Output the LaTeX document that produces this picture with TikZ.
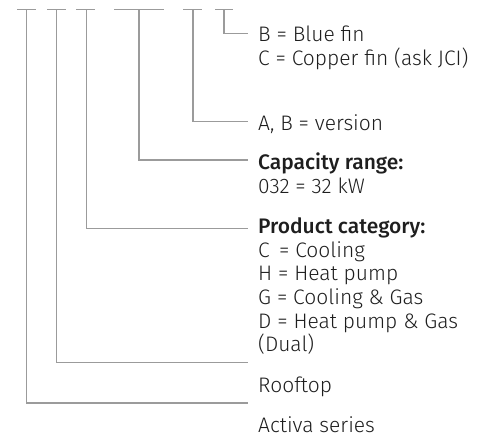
\documentclass[tikz,border=0pt]{standalone}
\usepackage{fontspec}
\setmainfont{Fira Sans Light}[BoldFont={Fira Sans Medium}]
\definecolor{linegray}{HTML}{9B9B9B}
\definecolor{txtcol}{HTML}{1E1E1E}
\begin{document}
\begin{tikzpicture}[x=1pt,y=-1pt,
  barline/.style={draw=linegray,line width=1.3pt},
  conn/.style={draw=linegray,line width=1.3pt},
  lbl/.style={anchor=base west,inner sep=0pt,text=txtcol,align=left,
    font=\fontsize{21}{24}\selectfont}]
\useasboundingbox (0,0) rectangle (483,437);
% top bars
\foreach \n/\a/\b/\v in {1/17/36/26.5, 2/47/66/56.5, 3/76/95/86.5, 4/114/164/139, 5/183/202/193, 6/215/233/224}{
  \coordinate (l\n) at (\a,9.5);
  \coordinate (r\n) at (\b,9.5);
  \coordinate (t\n) at (\v,9.5);
}
\coordinate (e6) at (248,33.3);
\coordinate (e5) at (248,121.7);
\coordinate (e4) at (248,160);
\coordinate (e3) at (248,228.3);
\coordinate (e2) at (248,362.7);
\coordinate (e1) at (248,403);
\foreach \n in {1,...,6}{
  \draw[barline] (l\n) -- (r\n);
  \draw[conn] (t\n) |- (e\n);
}
% labels (base anchor = baseline of the last line)
\node[lbl] (fin) at (258,65.5) {B = Blue fin\\C = Copper fin (ask JCI)};
\node[lbl] (ver) at (258,130.5) {A, B = version};
\node[lbl,font=\fontsize{21}{24.3}\selectfont] (cap) at (258,193.3) {\textbf{Capacity range:}\\032 = 32 kW};
\node[lbl,font=\fontsize{21}{23.7}\selectfont] (cat) at (258,351.8) {\textbf{Product category:}\\C\, = Cooling\\H = Heat pump\\G = Cooling \& Gas\\D = Heat pump \& Gas\\(Dual)};
\node[lbl] (roof) at (258,392.7) {Rooftop};
\node[lbl] (act) at (258,432.7) {Activa series};
\end{tikzpicture}
\end{document}
